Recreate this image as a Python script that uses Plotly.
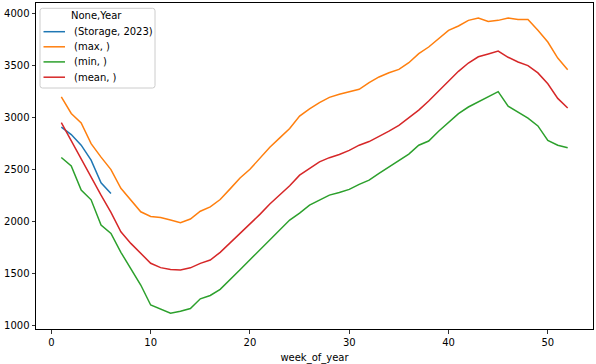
import plotly.graph_objects as go

weeks = list(range(1, 53))
storage_weeks = [1, 2, 3, 4, 5, 6]
storage_2023 = [2908, 2837, 2735, 2591, 2373, 2271]

max_vals = [3200, 3040, 2950, 2750, 2620, 2500, 2320, 2205, 2095, 2050,
            2040, 2015, 1990, 2025, 2100, 2142, 2213, 2315, 2420, 2504,
            2610, 2715, 2805, 2895, 3015, 3085, 3145, 3195, 3225, 3250,
            3272, 3337, 3391, 3432, 3464, 3528, 3615, 3679, 3759, 3839,
            3881, 3935, 3957, 3925, 3935, 3957, 3944, 3944, 3839, 3727,
            3573, 3461]

min_vals = [2617, 2536, 2303, 2210, 1967, 1887, 1705, 1551, 1391, 1199,
            1157, 1119, 1138, 1165, 1258, 1290, 1349, 1439, 1538, 1634,
            1730, 1826, 1922, 2015, 2082, 2159, 2207, 2255, 2280, 2310,
            2358, 2399, 2463, 2526, 2591, 2650, 2735, 2775, 2869, 2958,
            3039, 3102, 3150, 3205, 3250, 3110, 3054, 2995, 2920, 2780,
            2735, 2710]

mean_vals = [2953, 2775, 2600, 2427, 2255, 2090, 1902, 1791, 1695, 1600,
             1558, 1541, 1535, 1556, 1599, 1631, 1705, 1795, 1885, 1975,
             2070, 2170, 2260, 2345, 2447, 2515, 2575, 2615, 2645, 2685,
             2735, 2770, 2818, 2870, 2925, 2995, 3072, 3160, 3255, 3360,
             3445, 3525, 3585, 3612, 3640, 3580, 3535, 3500, 3430, 3325,
             3185, 3093]

legend_title = "None,Year"
series_names = ["(Storage, 2023)", "(max, )", "(min, )", "(mean, )"]
colors = ["#1f77b4", "#ff7f0e", "#2ca02c", "#d62728"]

x_ticks = [0, 10, 20, 30, 40, 50]
y_ticks = [1000, 1500, 2000, 2500, 3000, 3500, 4000]

W, H = 596, 364
ML, MR, MT, MB = 36, 3, 3, 35
PW, PH = W - ML - MR, H - MT - MB

def px(x):
    return (x - ML) / PW

def py(y):
    return (H - MB - y) / PH

fig = go.Figure()
data = [(storage_weeks, storage_2023), (weeks, max_vals), (weeks, min_vals), (weeks, mean_vals)]
for (xs, ys), name, c in zip(data, series_names, colors):
    fig.add_trace(go.Scatter(x=xs, y=ys, mode="lines", name=name,
                             line=dict(color=c, width=1.5), showlegend=False))

axis_common = dict(showline=True, linecolor="#000000", linewidth=1, mirror=True,
                   ticks="outside", ticklen=3.5, tickwidth=0.8, tickcolor="#000000",
                   showgrid=False, zeroline=False, automargin=False,
                   tickfont=dict(family="DejaVu Sans", size=10, color="#000000"))

# manual legend (matplotlib-like)
lx0, lx1, ly0, ly1, r = 40, 155, 8.3, 88, 2.5
path = (f"M {px(lx0 + r)},{py(ly0)} L {px(lx1 - r)},{py(ly0)} "
        f"Q {px(lx1)},{py(ly0)} {px(lx1)},{py(ly0 + r)} "
        f"L {px(lx1)},{py(ly1 - r)} Q {px(lx1)},{py(ly1)} {px(lx1 - r)},{py(ly1)} "
        f"L {px(lx0 + r)},{py(ly1)} Q {px(lx0)},{py(ly1)} {px(lx0)},{py(ly1 - r)} "
        f"L {px(lx0)},{py(ly0 + r)} Q {px(lx0)},{py(ly0)} {px(lx0 + r)},{py(ly0)} Z")
shapes = [dict(type="path", xref="paper", yref="paper", path=path,
               fillcolor="rgba(255,255,255,0.8)", line=dict(color="#cccccc", width=1))]
annotations = [dict(xref="paper", yref="paper", x=px(96.7), y=py(16), text=legend_title,
                    showarrow=False, xanchor="center", yanchor="middle",
                    font=dict(family="DejaVu Sans", size=10, color="#000000"))]
row_y = [31.7, 46.8, 61.9, 77.2]
for name, c, ry in zip(series_names, colors, row_y):
    shapes.append(dict(type="line", xref="paper", yref="paper",
                       x0=px(43.5), x1=px(65), y0=py(ry), y1=py(ry),
                       line=dict(color=c, width=1.5)))
    annotations.append(dict(xref="paper", yref="paper", x=px(72), y=py(ry), text=name,
                            showarrow=False, xanchor="left", yanchor="middle",
                            font=dict(family="DejaVu Sans", size=10, color="#000000")))

fig.update_layout(
    width=W, height=H,
    margin=dict(l=ML, r=MR, t=MT, b=MB),
    paper_bgcolor="white", plot_bgcolor="white",
    font=dict(family="DejaVu Sans", size=10, color="#000000"),
    xaxis=dict(range=[-1.55, 54.55], tickvals=x_ticks,
               title=dict(text="week_of_year", standoff=11,
                          font=dict(family="DejaVu Sans", size=10, color="#000000")),
               **axis_common),
    yaxis=dict(range=[968, 4102], tickvals=y_ticks, **axis_common),
    showlegend=False,
    hovermode=False,
    shapes=shapes,
    annotations=annotations,
)

fig.write_html(
    "out.html",
    config={"displayModeBar": False, "staticPlot": True},
    post_script="document.body.style.margin='0';document.body.style.padding='0';"
                "document.documentElement.style.overflow='hidden';",
)
